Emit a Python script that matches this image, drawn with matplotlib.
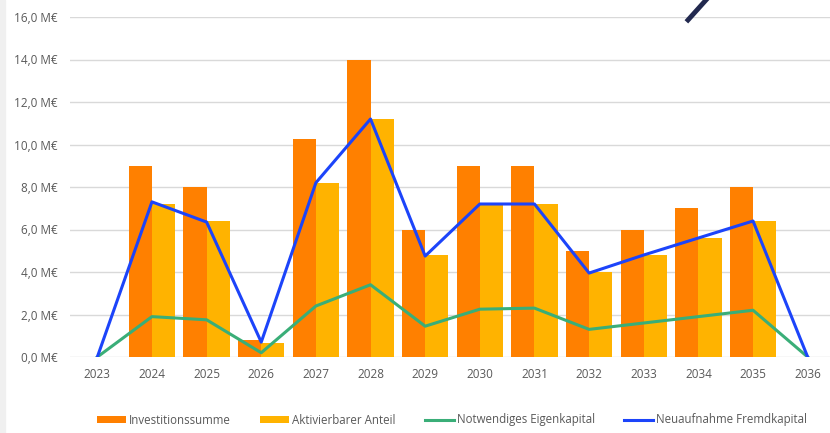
import numpy as np
from matplotlib import pyplot as plt
from matplotlib.lines import Line2D
from matplotlib.patches import Rectangle

years = ["2023", "2024", "2025", "2026", "2027", "2028", "2029",
         "2030", "2031", "2032", "2033", "2034", "2035", "2036"]
investition = [0, 9.0, 8.0, 0.8, 10.25, 14.0, 6.0, 9.0, 9.0, 5.0, 6.0, 7.0, 8.0, 0]
aktivierbar = [0, 7.2, 6.4, 0.64, 8.2, 11.2, 4.8, 7.2, 7.2, 4.0, 4.8, 5.6, 6.4, 0]
eigenkapital = [0, 1.9, 1.75, 0.2, 2.4, 3.4, 1.45, 2.25, 2.3, 1.3, 1.6, 1.9, 2.2, 0]
fremdkapital = [0, 7.3, 6.35, 0.7, 8.2, 11.2, 4.75, 7.2, 7.2, 3.95, 4.8, 5.6, 6.4, 0]

orange = "#ff8000"
yellow = "#ffb300"
green = "#3aae78"
blue = "#1c44fa"
grey_text = "#595959"

plt.rcParams['font.family'] = ['Liberation Sans Narrow', 'Open Sans', 'DejaVu Sans']

fig = plt.figure(figsize=(8.3, 4.33), dpi=100)
ax = fig.add_axes([70 / 830, 1 - 357 / 433, 765 / 830, 340 / 433])

x = np.arange(len(years))
w = 0.425
b1 = ax.bar(x - w / 2, investition, w, color=orange, label="Investitionssumme", zorder=2)
b2 = ax.bar(x + w / 2, aktivierbar, w, color=yellow, label="Aktivierbarer Anteil", zorder=2)
l1, = ax.plot(x, eigenkapital, color=green, lw=2.2, label="Notwendiges Eigenkapital", zorder=3)
l2, = ax.plot(x, fremdkapital, color=blue, lw=2.2, label="Neuaufnahme Fremdkapital", zorder=4)

ax.set_xlim(-0.5, 13.5)
ax.set_ylim(0, 16)
ax.set_yticks(np.arange(0, 17, 2))
ax.set_yticklabels([f"{v:.1f}".replace(".", ",") + " M€" for v in np.arange(0, 17, 2)])
ax.set_xticks(x)
ax.set_xticklabels(years)
ax.tick_params(length=0, labelsize=8.5, labelcolor=grey_text, pad=8)
ax.tick_params(axis='y', pad=9)
ax.yaxis.grid(True, color="#d9d9d9", lw=1, zorder=0)
for s in ax.spines.values():
    s.set_visible(False)

fig.legend([b1, b2, l1, l2],
           [b1.get_label(), b2.get_label(), l1.get_label(), l2.get_label()],
           loc="center left", bbox_to_anchor=(87 / 830, 1 - 420 / 433), ncol=4,
           frameon=False, fontsize=8.3, handlelength=2.5, handleheight=0.6,
           handletextpad=0.25, columnspacing=2.55, labelcolor=grey_text)

# dark stroke in the top right corner and grey band at left edge
fig.add_artist(Line2D([688 / 830, 706 / 830], [1 - 20 / 433, 1.0], color="#22294f", lw=3.5))
fig.add_artist(Rectangle((0, 0), 5 / 830, 1, color="#f0f0f0", transform=fig.transFigure, zorder=-1))

fig.savefig("out.png", dpi=100)
